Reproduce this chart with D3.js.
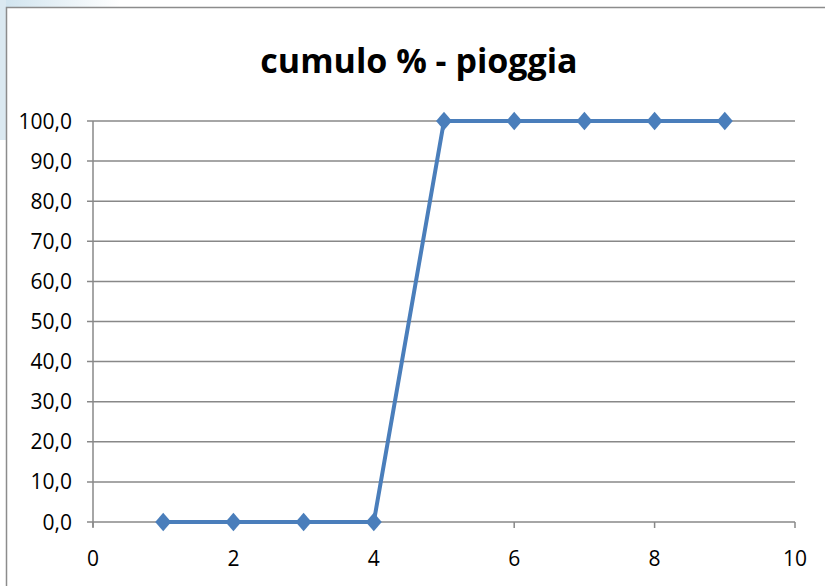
<!DOCTYPE html>
<html>
<head>
<meta charset="utf-8">
<script src="https://cdn.jsdelivr.net/npm/d3@7"></script>
<style>
  body { margin: 0; background: #fff; }
  text { font-family: "Open Sans", "Liberation Sans", sans-serif; fill: #000; }
</style>
</head>
<body>
<div id="chart"></div>
<script>
// data
var xValues = [1, 2, 3, 4, 5, 6, 7, 8, 9];
var yValues = [0, 0, 0, 0, 100, 100, 100, 100, 100];
var xTicks = [0, 2, 4, 6, 8, 10];
var yTicks = [0, 10, 20, 30, 40, 50, 60, 70, 80, 90, 100];
var title = "cumulo % - pioggia";

var width = 825;
var height = 586;

var svg = d3.select("#chart")
    .append("svg")
    .attr("width", width)
    .attr("height", height);

// faint background smear at top-left, then the chart frame
var grad = svg.append("defs").append("linearGradient")
    .attr("id", "bg").attr("x1", 0).attr("x2", 1);
grad.append("stop").attr("offset", 0).attr("stop-color", "#cfe3ee");
grad.append("stop").attr("offset", 1).attr("stop-color", "#ffffff");
svg.append("rect")
    .attr("x", 0).attr("y", 0)
    .attr("width", 120).attr("height", 7)
    .attr("fill", "url(#bg)");
svg.append("rect")
    .attr("x", 0).attr("y", 0)
    .attr("width", 6).attr("height", 140)
    .attr("fill", "#dbe9f1");

svg.append("rect")
    .attr("x", 6.5).attr("y", 7.5)
    .attr("width", 830).attr("height", 600)
    .attr("fill", "#fff")
    .attr("stroke", "#8c8c8c")
    .attr("stroke-width", 1.5);

var x = d3.scaleLinear()
    .domain([0, 10])
    .range([93, 795]);

var y = d3.scaleLinear()
    .domain([0, 100])
    .range([522, 121]);

// gridlines
svg.append("g")
    .selectAll("line")
    .data(yTicks)
    .join("line")
    .attr("x1", x(0) - 6)
    .attr("x2", x(10))
    .attr("y1", d => y(d))
    .attr("y2", d => y(d))
    .attr("stroke", "#888")
    .attr("stroke-width", 1.5);

// y axis
svg.append("line")
    .attr("x1", x(0)).attr("x2", x(0))
    .attr("y1", y(100)).attr("y2", y(0) + 5)
    .attr("stroke", "#888")
    .attr("stroke-width", 1.5);

svg.append("g")
    .selectAll("text")
    .data(yTicks)
    .join("text")
    .attr("x", x(0) - 21)
    .attr("y", d => y(d))
    .attr("dy", "0.36em")
    .attr("text-anchor", "end")
    .style("font-size", "21px")
    .text(d => d3.format(".1f")(d).replace(".", ","));

// x axis ticks and labels
svg.append("g")
    .selectAll("line")
    .data(xTicks)
    .join("line")
    .attr("x1", d => x(d)).attr("x2", d => x(d))
    .attr("y1", y(0)).attr("y2", y(0) + 6)
    .attr("stroke", "#888")
    .attr("stroke-width", 1.5);

svg.append("g")
    .selectAll("text")
    .data(xTicks)
    .join("text")
    .attr("x", d => x(d))
    .attr("y", y(0) + 44)
    .attr("text-anchor", "middle")
    .style("font-size", "21px")
    .text(d => d);

// title
svg.append("text")
    .attr("x", 419)
    .attr("y", 73)
    .attr("text-anchor", "middle")
    .style("font-size", "34px")
    .style("font-weight", "bold")
    .text(title);

// series
var pts = xValues.map((v, i) => [v, yValues[i]]);

svg.append("path")
    .datum(pts)
    .attr("fill", "none")
    .attr("stroke", "#4a7ebb")
    .attr("stroke-width", 4)
    .attr("d", d3.line().x(d => x(d[0])).y(d => y(d[1])));

// Excel-style diamond marker, a bit taller than wide
var diamond = {
  draw: function(context, size) {
    var w = Math.sqrt(size) / 2, h = w * 1.15;
    context.moveTo(0, -h);
    context.lineTo(w, 0);
    context.lineTo(0, h);
    context.lineTo(-w, 0);
    context.closePath();
  }
};

svg.append("g")
    .selectAll("path")
    .data(pts)
    .join("path")
    .attr("transform", d => "translate(" + x(d[0]) + "," + y(d[1]) + ")")
    .attr("d", d3.symbol().type(diamond).size(256))
    .attr("fill", "#4a7ebb");
</script>
</body>
</html>
